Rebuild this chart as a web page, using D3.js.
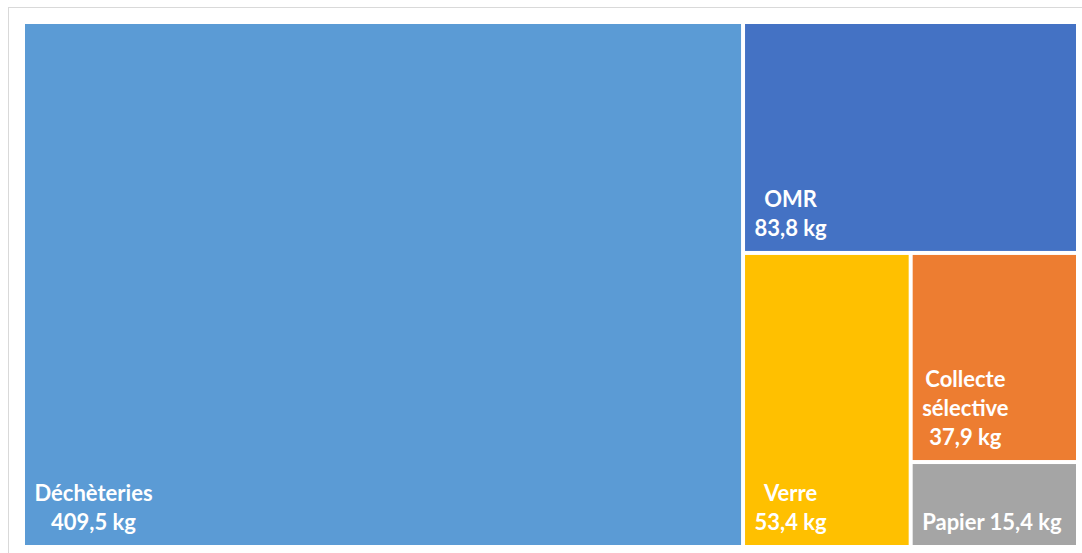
<!DOCTYPE html>
<html>
<head>
<meta charset="utf-8">
<script src="https://cdn.jsdelivr.net/npm/d3@7"></script>
<style>
  html, body { margin: 0; padding: 0; background: #ffffff; }
  svg { display: block; }
  text { font-family: "Lato", "Open Sans", sans-serif; font-weight: 700; fill: #ffffff; }
</style>
</head>
<body>
<svg id="chart" width="1082" height="553"></svg>
<script>
// Tonnage par habitant, par filière de collecte
const categories = ["Déchèteries", "OMR", "Verre", "Collecte sélective", "Papier"];
const values = [409.5, 83.8, 53.4, 37.9, 15.4];
const colors = ["#5B9BD5", "#4472C4", "#FFC000", "#ED7D31", "#A5A5A5"];
// Line breaks used for the category names inside their tiles
const nameLines = [["Déchèteries"], ["OMR"], ["Verre"], ["Collecte", "sélective"], ["Papier"]];

const W = 1082, H = 553;
const svg = d3.select("#chart");

// Chart area frame
svg.append("rect")
  .attr("x", 8.5).attr("y", 7.5)
  .attr("width", W + 10).attr("height", H + 10)
  .attr("fill", "#ffffff").attr("stroke", "#d9d9d9").attr("stroke-width", 1);

const plot = { x0: 25, y0: 24, x1: 1076, y1: 545 };

const root = d3.hierarchy({
  children: categories.map((c, i) => ({ name: c, value: values[i], color: colors[i], lines: nameLines[i] }))
}).sum(d => d.value || 0)
  .sort((a, b) => b.value - a.value);

d3.treemap()
  .tile(d3.treemapSquarify.ratio(1))
  .size([plot.x1 - plot.x0, plot.y1 - plot.y0])
  .paddingInner(4)
  .round(false)(root);

const fr = d3.formatLocale({ decimal: ",", thousands: "\u00a0", grouping: [3], currency: ["", " €"] });
const fmt = fr.format(".1f");

const g = svg.append("g").attr("transform", `translate(${plot.x0},${plot.y0})`);

const leaf = g.selectAll("g.tile")
  .data(root.leaves())
  .join("g")
  .attr("class", "tile");

leaf.append("rect")
  .attr("x", d => d.x0)
  .attr("y", d => d.y0)
  .attr("width", d => Math.max(0, d.x1 - d.x0))
  .attr("height", d => Math.max(0, d.y1 - d.y0))
  .attr("fill", d => d.data.color);

const fontSize = 22;
const lineH = 29;

leaf.each(function (d) {
  const gg = d3.select(this);
  const valueText = fmt(d.data.value) + " kg";
  const tileH = d.y1 - d.y0;
  let lines;
  if (tileH < 100) {
    lines = [d.data.lines.join(" ") + " " + valueText];
  } else {
    lines = d.data.lines.concat([valueText]);
  }
  const t = gg.append("text")
    .attr("font-size", fontSize)
    .attr("text-anchor", "middle");
  const tspans = lines.map((l, i) => t.append("tspan").attr("x", 0).attr("y", i * lineH).text(l));
  // centre the lines on each other, block left-aligned and bottom-anchored in the tile
  let maxW = 0;
  tspans.forEach(ts => { maxW = Math.max(maxW, ts.node().getComputedTextLength()); });
  const bx = d.x0 + 9.5 + maxW / 2;
  const by = d.y1 - 15 - (lines.length - 1) * lineH;
  t.attr("transform", `translate(${bx},${by})`);
});
</script>
</body>
</html>
